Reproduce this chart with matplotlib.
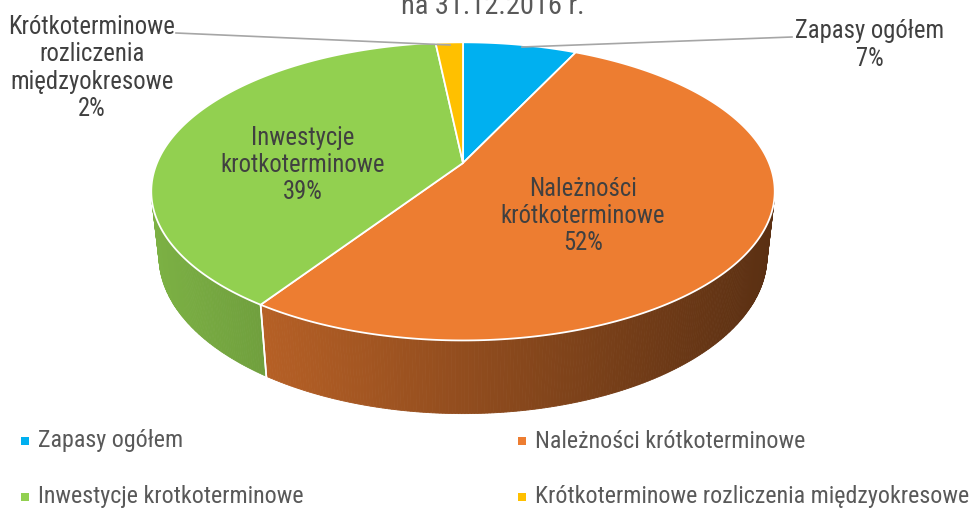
import numpy as np
import matplotlib
matplotlib.use("Agg")
import matplotlib.pyplot as plt
from matplotlib.patches import Polygon, Rectangle

# ---- data ----
categories = ["Zapasy ogółem", "Należności krótkoterminowe",
              "Inwestycje krotkoterminowe", "Krótkoterminowe rozliczenia międzyokresowe"]
values = [7.1, 52.3, 38.9, 1.7]
pct_labels = ["7%", "52%", "39%", "2%"]
slice_labels = ["Zapasy ogółem", "Należności\nkrótkoterminowe",
                "Inwestycje\nkrotkoterminowe", "Krótkoterminowe\nrozliczenia\nmiędzyokresowe"]
colors = ["#00B0F0", "#ED7D31", "#92D050", "#FFC000"]
title = "na 31.12.2016 r."

FONT = ["Roboto Condensed", "DejaVu Sans"]
TXT = "#404040"

fig = plt.figure(figsize=(9.79, 5.11), dpi=100)
ax = fig.add_axes([0, 0, 1, 1])
ax.set_xlim(0, 979)
ax.set_ylim(511, 0)
ax.axis("off")

# ---- perspective projection of a 3D disk ----
e = np.radians(28)
s, c = np.sin(e), np.cos(e)
d0 = 4.64
F = 1420.0
CX, CY = 463.0, 163.0
H = 0.242


def proj(x, y, z):
    Yp = y * s + z * c
    D = d0 + y * c - z * s
    return CX + F * x / D, CY - F * Yp / D


def rim(t, z=0.0):
    return proj(np.sin(t), np.cos(t), z)


def shade(hexcol, f):
    rgb = np.array(matplotlib.colors.to_rgb(hexcol))
    return tuple(np.clip(rgb * f, 0, 1))


total = sum(values)
bounds = np.cumsum([0] + values) / total * 2 * np.pi

# walls (only front-facing part)
vis_lim = -1.0 / (d0 * c)
for i, col in enumerate(colors):
    t0, t1 = bounds[i], bounds[i + 1]
    ts = np.linspace(t0, t1, max(4, int(np.degrees(t1 - t0) * 2)))
    for a, b in zip(ts[:-1], ts[1:]):
        if np.cos((a + b) / 2) >= vis_lim:
            continue
        p1 = rim(a); p2 = rim(b); p3 = rim(b, -H); p4 = rim(a, -H)
        xm = (p1[0] + p2[0]) / 2
        f = 0.85 - 0.00075 * (xm - 150)
        fc = shade(col, f)
        ax.add_patch(Polygon([p1, p2, p3, p4], closed=True, facecolor=fc,
                             edgecolor=fc, linewidth=0.6, zorder=1))
    for t in (t0, t1):
        if np.cos(t) < vis_lim:
            a = rim(t); b = rim(t, -H)
            ax.plot([a[0], b[0]], [a[1], b[1]], color="white", lw=1.2, zorder=2)

# top faces
for i, col in enumerate(colors):
    t0, t1 = bounds[i], bounds[i + 1]
    ts = np.linspace(t0, t1, max(4, int(np.degrees(t1 - t0) * 2)))
    pts = [proj(0, 0, 0)] + [rim(t) for t in ts]
    ax.add_patch(Polygon(pts, closed=True, facecolor=col, edgecolor="white",
                         linewidth=1.3, zorder=3))

# ---- labels ----
fs = 17.7
kw = dict(ha="center", va="center", fontsize=fs, color=TXT, family=FONT,
          linespacing=1.17, zorder=5)
ax.text(303, 165, slice_labels[2] + "\n" + pct_labels[2], **kw)
ax.text(583, 216, slice_labels[1] + "\n" + pct_labels[1], **kw)
ax.text(870, 45, slice_labels[0] + "\n" + pct_labels[0], **kw)
ax.text(92, 68, slice_labels[3] + "\n" + pct_labels[3], **kw)

# leader lines
ax.plot([176, 450], [33, 45], color="#A6A6A6", lw=1.2, zorder=4)
ax.plot([522, 792], [47, 37], color="#A6A6A6", lw=1.2, zorder=4)

# title (partly cut off at top)
ax.text(493, 14, title, ha="center", va="baseline", fontsize=20.4, color="#595959",
        family=FONT, zorder=5)

# ---- legend ----
fs_leg = 17.3
leg_pos = [(25, 441), (522, 441), (25, 497), (522, 497)]
for (lx, ly), col, lab in zip(leg_pos, colors, categories):
    ax.add_patch(Rectangle((lx - 4, ly - 4), 8, 8, facecolor=col,
                           edgecolor="none", zorder=5))
    ax.text(lx + 13, ly, lab, ha="left", va="center", fontsize=fs_leg, color="#595959",
            family=FONT, zorder=5)

fig.savefig("out.png", dpi=100)
